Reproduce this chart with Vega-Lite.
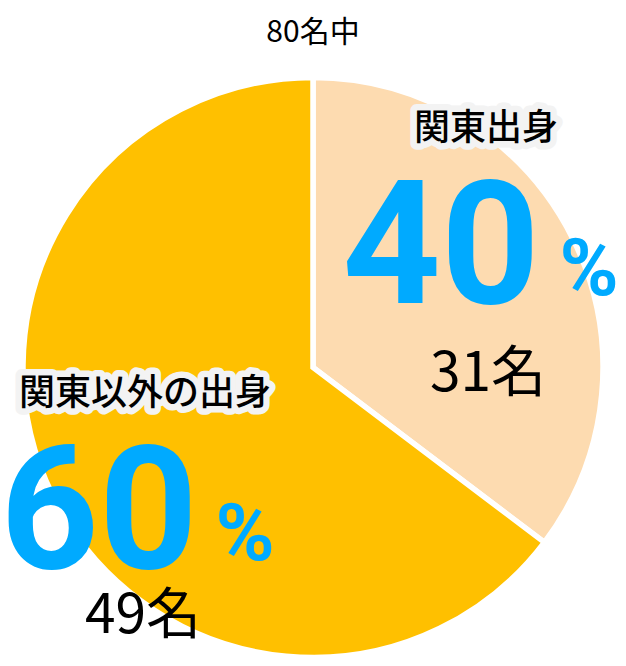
{
  "$schema": "https://vega.github.io/schema/vega-lite/v6.json",
  "width": 626,
  "height": 595,
  "autosize": {"type": "none"},
  "padding": {"left": 0, "right": 0, "top": 70, "bottom": 0},
  "background": "white",
  "config": {"view": {"stroke": null}},
  "title": {
    "text": "80名中",
    "font": "Noto Sans CJK JP",
    "fontSize": 30,
    "fontWeight": "normal",
    "color": "black",
    "anchor": "middle",
    "baseline": "alphabetic",
    "offset": 27,
    "dy": 32
  },
  "data": {
    "values": [
      {"idx": 1, "region": "関東出身", "people": 31, "people_label": "31名", "percent": 40, "share": 35.3},
      {"idx": 2, "region": "関東以外の出身", "people": 49, "people_label": "49名", "percent": 60, "share": 64.7}
    ]
  },
  "encoding": {
    "theta": {"field": "share", "type": "quantitative", "stack": true},
    "order": {"field": "idx", "type": "quantitative"}
  },
  "layer": [
    {
      "mark": {"type": "arc", "outerRadius": 290, "stroke": "white", "strokeWidth": 5.5, "strokeJoin": "miter"},
      "encoding": {
        "color": {
          "field": "region",
          "type": "nominal",
          "scale": {"domain": ["関東出身", "関東以外の出身"], "range": ["#FDDBB0", "#FFC000"]},
          "legend": null
        }
      }
    },
    {
      "mark": {"type": "text", "radius": 200, "dx": -6, "dy": -149, "font": "Noto Sans CJK JP", "fontSize": 36, "fontWeight": 500, "align": "center", "baseline": "middle", "fill": "#f3f3f3", "stroke": "#f3f3f3", "strokeWidth": 13, "strokeJoin": "round"},
      "encoding": {
        "text": {"field": "region"},
        "opacity": {"condition": {"test": "datum.idx === 1", "value": 1}, "value": 0}
      }
    },
    {
      "mark": {"type": "text", "radius": 200, "dx": -6, "dy": -149, "font": "Noto Sans CJK JP", "fontSize": 36, "fontWeight": 500, "align": "center", "baseline": "middle", "color": "black"},
      "encoding": {
        "text": {"field": "region"},
        "opacity": {"condition": {"test": "datum.idx === 1", "value": 1}, "value": 0}
      }
    },
    {
      "mark": {"type": "text", "radius": 200, "dx": -51, "dy": 25, "font": "Roboto", "fontSize": 172, "fontWeight": "bold", "align": "center", "baseline": "alphabetic", "color": "#00aaff"},
      "encoding": {
        "text": {"field": "percent"},
        "opacity": {"condition": {"test": "datum.idx === 1", "value": 1}, "value": 0}
      }
    },
    {
      "mark": {"type": "text", "radius": 200, "dx": 97, "dy": 17, "font": "Roboto", "fontSize": 80, "fontWeight": "bold", "align": "center", "baseline": "alphabetic", "color": "#00aaff", "text": "%"},
      "encoding": {
        "opacity": {"condition": {"test": "datum.idx === 1", "value": 1}, "value": 0}
      }
    },
    {
      "mark": {"type": "text", "radius": 200, "dx": -4, "dy": 113, "font": "Noto Sans CJK JP", "fontSize": 55, "align": "center", "baseline": "alphabetic", "color": "black"},
      "encoding": {
        "text": {"field": "people_label"},
        "opacity": {"condition": {"test": "datum.idx === 1", "value": 1}, "value": 0}
      }
    },
    {
      "mark": {"type": "text", "radius": 200, "dx": 11, "dy": -63, "font": "Noto Sans CJK JP", "fontSize": 36, "fontWeight": 500, "align": "center", "baseline": "middle", "fill": "#f3f3f3", "stroke": "#f3f3f3", "strokeWidth": 13, "strokeJoin": "round"},
      "encoding": {
        "text": {"field": "region"},
        "opacity": {"condition": {"test": "datum.idx === 2", "value": 1}, "value": 0}
      }
    },
    {
      "mark": {"type": "text", "radius": 200, "dx": 11, "dy": -63, "font": "Noto Sans CJK JP", "fontSize": 36, "fontWeight": 500, "align": "center", "baseline": "middle", "color": "black"},
      "encoding": {
        "text": {"field": "region"},
        "opacity": {"condition": {"test": "datum.idx === 2", "value": 1}, "value": 0}
      }
    },
    {
      "mark": {"type": "text", "radius": 200, "dx": -35, "dy": 111, "font": "Roboto", "fontSize": 172, "fontWeight": "bold", "align": "center", "baseline": "alphabetic", "color": "#00aaff"},
      "encoding": {
        "text": {"field": "percent"},
        "opacity": {"condition": {"test": "datum.idx === 2", "value": 1}, "value": 0}
      }
    },
    {
      "mark": {"type": "text", "radius": 200, "dx": 111, "dy": 103, "font": "Roboto", "fontSize": 80, "fontWeight": "bold", "align": "center", "baseline": "alphabetic", "color": "#00aaff", "text": "%"},
      "encoding": {
        "opacity": {"condition": {"test": "datum.idx === 2", "value": 1}, "value": 0}
      }
    },
    {
      "mark": {"type": "text", "radius": 200, "dx": 9, "dy": 176, "font": "Noto Sans CJK JP", "fontSize": 55, "align": "center", "baseline": "alphabetic", "color": "black"},
      "encoding": {
        "text": {"field": "people_label"},
        "opacity": {"condition": {"test": "datum.idx === 2", "value": 1}, "value": 0}
      }
    }
  ]
}
